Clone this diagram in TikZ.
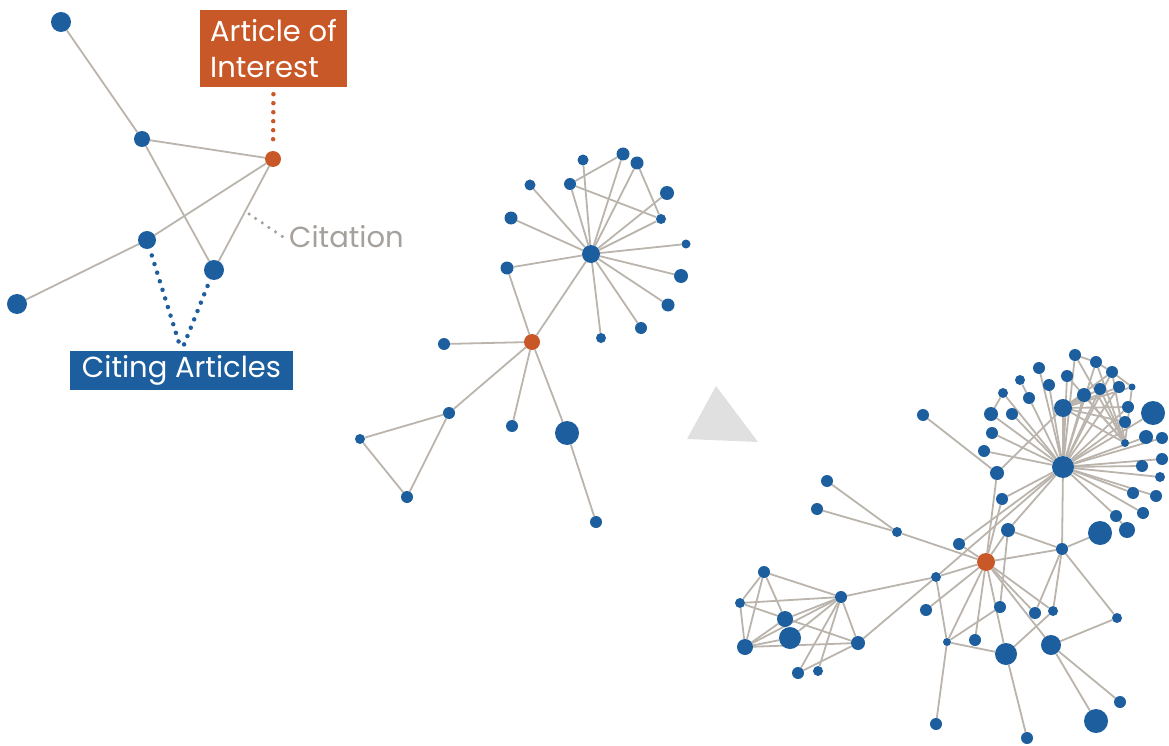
\documentclass[tikz,border=0pt]{standalone}
\usepackage{fontspec}
\setmainfont{Poppins}
\definecolor{nblue}{RGB}{28,94,158}
\definecolor{norange}{RGB}{200,88,40}
\definecolor{edgec}{RGB}{186,180,172}
\definecolor{citgray}{RGB}{165,160,155}
\definecolor{trigray}{RGB}{224,224,224}
\pgfdeclarelayer{bg}
\pgfsetlayers{bg,main}
\begin{document}
\begin{tikzpicture}[x=1pt,y=-1pt,
  nb/.style={circle,fill=nblue,draw=none,inner sep=0pt,minimum size=#1pt},
  no/.style={circle,fill=norange,draw=none,inner sep=0pt,minimum size=#1pt},
  ed/.style={draw=edgec,line width=1.8pt},
  dotline/.style={line width=4.5pt,line cap=round,dash pattern=on 0pt off 9pt},
  labelbox/.style={fill=#1,text=white,inner sep=0pt,font=\fontsize{29}{36}\selectfont}]
\useasboundingbox (0,0) rectangle (1169,746);

% ---------- top-left example ----------
\foreach \n/\x/\y/\d in {t1/61/22/20, t2/142/139/16, t3/147/240/18, t4/214/270/20, t5/17/304/20}
  \node[nb=\d] (\n) at (\x,\y) {};
\node[no=16] (to) at (273,159) {};
\begin{pgfonlayer}{bg}
\foreach \a/\b in {t1/t2, t2/to, t2/t4, to/t3, to/t4, t3/t5}
  \draw[ed] (\a) -- (\b);
\end{pgfonlayer}

\node[labelbox=norange,minimum width=147pt,minimum height=77pt,align=left] (aoi) at (273.5,48.5) {Article of\\Interest};
\node[labelbox=nblue,minimum width=223pt,minimum height=39pt] (cia) at (181.5,370.5) {Citing Articles};
\node[anchor=west,text=citgray,inner sep=0pt,font=\fontsize{29}{34}\selectfont] (cit) at (289,237) {Citation};
\coordinate (cstart) at (249,214);
\draw[dotline,norange,shorten <=7pt,shorten >=10pt] (aoi.south) -- (to);
\draw[dotline,citgray,line width=3.5pt,dash pattern=on 0pt off 8pt,shorten >=7pt] (cstart) -- ([yshift=-4pt]cit.west);
\draw[dotline,nblue,shorten <=7pt,shorten >=4pt] (t3) -- (cia.north);
\draw[dotline,nblue,shorten <=7pt,shorten >=4pt] (t4) -- (cia.north);

% ---------- middle graph ----------
\foreach \n/\x/\y/\d in {m1/583/160/11, m2/623/154/13, m3/637/163/13, m4/530/185/11, m5/570/184/12,
  m6/667/193/14, m7/511/218/13, m8/661/219/10, m9/686/244/9, m10/507/268/13, m11/681/276/14,
  m12/668/305/13, m13/641/328/12, m14/601/338/10, m15/444/344/12, m16/449/413/12, m17/360/439/10,
  m18/407/497/12, m19/512/426/12, m20/567/433/24, m21/596/522/12, mh/591/254/18}
  \node[nb=\d] (\n) at (\x,\y) {};
\node[no=16] (mo) at (532,342) {};
\begin{pgfonlayer}{bg}
\foreach \b in {m1,m2,m3,m4,m5,m6,m7,m8,m9,m10,m11,m12,m13,m14,mo}
  \draw[ed] (mh) -- (\b);
\foreach \a/\b in {m5/m2, m5/m8, m3/m8, m10/mo, mo/m15, mo/m16, mo/m19, mo/m20, m20/m21,
  m16/m17, m17/m18, m18/m16}
  \draw[ed] (\a) -- (\b);
\end{pgfonlayer}

% ---------- arrow triangle ----------
\fill[trigray] (716,386) -- (758,442) -- (687,439) -- cycle;

% ---------- big graph ----------
\foreach \n/\x/\y/\d in {H/1063/467/22, H2/1063/408/18,
  p1/1075/355/12, p2/1096/362/12, p3/1112/372/12, p4/1132/387/7, p5/1119/387/12, p6/1100/389/12,
  p7/1084/395/14, p8/1039/368/12, p9/1067/376/12, p10/1049/385/12, p11/1020/380/10, p12/1029/398/12,
  p13/1003/393/10, p14/991/414/14, p15/1012/414/12, p16/992/433/12, p17/984/451/12, p18/997/473/14,
  p19/1002/499/12, p20/1008/530/14, p21/1128/407/12, p22/1125/422/12, p23/1125/443/8, p24/1153/413/24,
  p25/1146/437/14, p26/1162/438/12, p27/1162/459/12, p28/1142/466/12, p29/1160/477/10, p30/1133/493/12,
  p31/1156/496/12, p32/1143/513/12, p33/1116/516/12, p34/1100/533/24, p35/1127/530/16, p36/1062/549/12,
  p37/923/415/12,
  q1/827/481/12, q2/817/509/12, q3/897/532/10, q4/959/544/12, q5/936/577/10,
  c1/764/572/12, c2/740/603/10, c3/785/619/16, c4/790/638/22, c5/745/647/16, c6/841/597/12,
  c7/858/643/14, c8/798/673/12, c9/818/671/10,
  r1/926/610/12, r2/1000/607/12, r3/1035/613/12, r4/1053/611/10, r5/1117/618/10, r6/947/642/8,
  r7/975/640/12, r8/1006/654/22, r9/1051/645/20, r10/1120/702/12, r11/1096/721/24, r12/936/724/12,
  r13/1027/738/12}
  \node[nb=\d] (\n) at (\x,\y) {};
\node[no=18] (O) at (986,562) {};
\begin{pgfonlayer}{bg}
\foreach \b in {H2,p1,p2,p3,p5,p6,p7,p8,p9,p10,p12,p13,p14,p15,p16,p17,p21,p22,p24,p25,p26,p27,p28,
  p29,p30,p31,p32,p33,p19,p20,p36,q4,q5}
  \draw[ed] (H) -- (\b);
\foreach \b in {p3,p4,p5,p6,p7,p21,p22,p23,p18}
  \draw[ed] (H2) -- (\b);
\foreach \b in {p1,p2,p3,p6,p7,p9,p4}
  \draw[ed] (p23) -- (\b);
\foreach \b in {q3,q4,q5,p20,p36,r1,r6,r7,r8,r3,r4,r9,p18,p19}
  \draw[ed] (O) -- (\b);
\foreach \a/\b in {p1/p2, p2/p3, p3/p4, p11/p12, p13/p14, p33/p35, p37/p18,
  p36/p34, p36/p20, p36/r3, p36/r4, p36/r5, p20/r2,
  q1/q3, q2/q3, q5/c6, q5/c7, q5/r6,
  r6/r2, r6/r8, r6/r12, r8/r13, r8/r4, r9/r5, r9/r10, r9/r11,
  c1/c2, c1/c5, c1/c3, c1/c6, c2/c5, c2/c6, c2/c7, c5/c3, c5/c4, c5/c6, c5/c7,
  c3/c6, c4/c6, c8/c6, c8/c7, c9/c6, c6/c7}
  \draw[ed] (\a) -- (\b);
\end{pgfonlayer}
\end{tikzpicture}
\end{document}
